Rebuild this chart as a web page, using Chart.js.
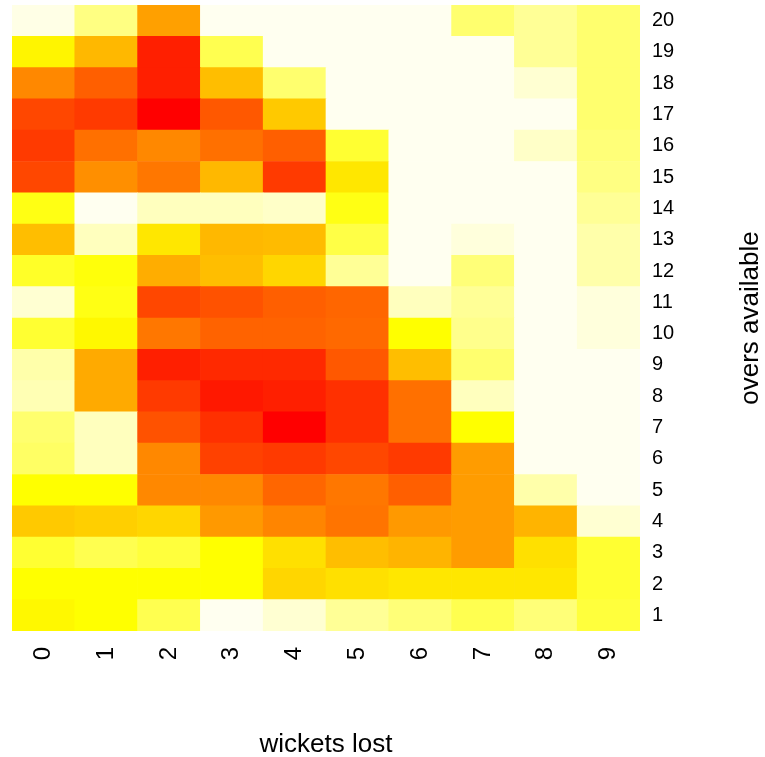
<!DOCTYPE html>
<html>
<head>
<meta charset="utf-8">
<script src="https://cdn.jsdelivr.net/npm/chart.js@4"></script>
<style>
  body { margin: 0; background: #fff; }
  #box { width: 765px; height: 757px; }
</style>
</head>
<body>
<div id="box"><canvas id="heat"></canvas></div>
<script>
const wickets = ['0', '1', '2', '3', '4', '5', '6', '7', '8', '9'];
const overs = [1, 2, 3, 4, 5, 6, 7, 8, 9, 10, 11, 12, 13, 14, 15, 16, 17, 18, 19, 20];

// intensity per cell, 100 = red, 25 = yellow, 0 = near white
// one row per over, over 1 first, columns = wickets 0..9
const heat = [
  [27, 25, 17, 1, 4, 10, 13, 17, 13, 19],   // 1
  [25, 25, 25, 25, 37, 34, 32, 32, 32, 20], // 2
  [20, 17, 19, 25, 34, 44, 47, 54, 34, 20], // 3
  [41, 39, 37, 55, 61, 66, 55, 54, 47, 4],  // 4
  [25, 25, 60, 60, 70, 65, 72, 54, 8, 1],   // 5
  [15, 6, 60, 81, 83, 79, 83, 54, 1, 1],    // 6
  [14, 6, 76, 86, 100, 86, 67, 25, 1, 1],   // 7
  [7, 50, 83, 93, 91, 86, 67, 6, 1, 1],     // 8
  [8, 50, 91, 88, 88, 74, 44, 14, 1, 1],    // 9
  [20, 27, 65, 71, 71, 69, 25, 11, 1, 3],   // 10
  [4, 23, 79, 76, 72, 70, 6, 10, 1, 3],     // 11
  [21, 24, 49, 44, 37, 10, 1, 13, 1, 8],    // 12
  [44, 6, 32, 46, 45, 18, 1, 3, 1, 8],      // 13
  [23, 1, 6, 6, 5, 23, 1, 1, 1, 10],        // 14
  [79, 58, 65, 46, 83, 32, 1, 1, 1, 12],    // 15
  [83, 67, 60, 67, 72, 20, 1, 1, 5, 13],    // 16
  [79, 83, 100, 74, 41, 1, 1, 1, 1, 14],    // 17
  [60, 72, 91, 44, 14, 1, 1, 1, 4, 14],     // 18
  [28, 46, 91, 17, 1, 1, 1, 1, 10, 14],     // 19
  [2, 12, 53, 1, 1, 1, 1, 14, 10, 14]       // 20
];

function heatColor(v) {
  if (v >= 25) {
    const g = Math.round(255 * (100 - v) / 75);
    return `rgb(255,${g},0)`;
  }
  const b = Math.round(250 * (25 - v) / 25);
  return `rgb(255,255,${b})`;
}

const datasets = overs.map((over, i) => ({
  label: 'over ' + over,
  data: wickets.map(() => [over - 0.5, over + 0.5]),
  backgroundColor: heat[i].map(heatColor),
  borderWidth: 0,
  grouped: false,
  barPercentage: 1,
  categoryPercentage: 1
}));

const fontFamily = '"Liberation Sans", Arial, sans-serif';

const axisTitles = {
  id: 'axisTitles',
  afterDraw(chart) {
    const ctx = chart.ctx;
    const area = chart.chartArea;
    ctx.save();
    ctx.fillStyle = '#000';
    ctx.font = '26px ' + fontFamily;
    ctx.textAlign = 'center';
    ctx.textBaseline = 'middle';
    ctx.fillText('wickets lost', (area.left + area.right) / 2, 745);
    ctx.translate(751, (area.top + area.bottom) / 2);
    ctx.rotate(-Math.PI / 2);
    ctx.fillText('overs available', 0, 0);
    ctx.restore();
  }
};

new Chart(document.getElementById('heat'), {
  type: 'bar',
  data: { labels: wickets, datasets: datasets },
  options: {
    responsive: true,
    maintainAspectRatio: false,
    animation: false,
    events: [],
    layout: { padding: { left: 12, top: 5, right: 0, bottom: 0 } },
    plugins: {
      legend: { display: false },
      tooltip: { enabled: false }
    },
    scales: {
      x: {
        type: 'category',
        grid: { display: false },
        border: { display: false },
        ticks: {
          color: '#000',
          font: { family: fontFamily, size: 24 },
          maxRotation: 90,
          minRotation: 90,
          padding: 8
        },
        afterFit(scale) {
          scale.height = 126;
          scale.paddingLeft = 0;
          scale.paddingRight = 0;
        }
      },
      y: {
        type: 'linear',
        position: 'right',
        min: 0.5,
        max: 20.5,
        grid: { display: false },
        border: { display: false },
        ticks: {
          color: '#000',
          font: { family: fontFamily, size: 20 },
          padding: 4
        },
        afterBuildTicks(scale) { scale.ticks = overs.map(v => ({ value: v })); },
        afterFit(scale) {
          scale.width = 125;
          scale.paddingTop = 0;
          scale.paddingBottom = 0;
        }
      }
    }
  },
  plugins: [axisTitles]
});
</script>
</body>
</html>
